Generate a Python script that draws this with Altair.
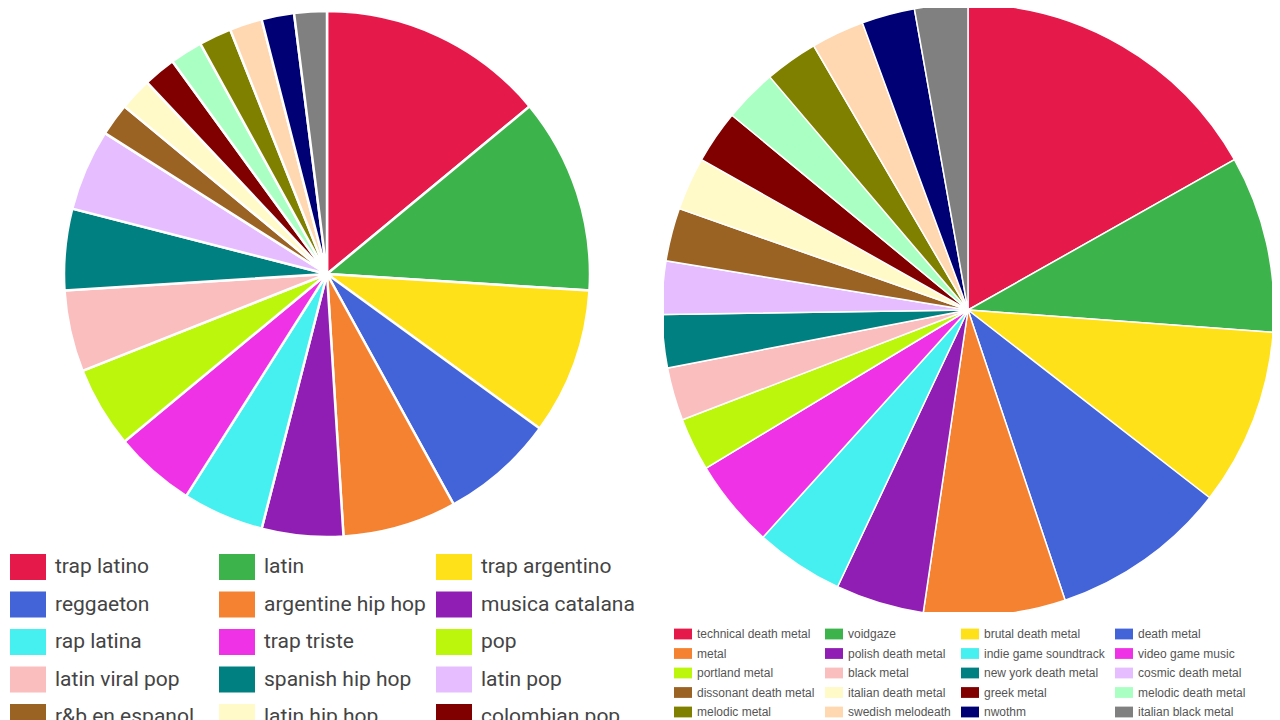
import altair as alt
import pandas as pd

# 20-colour palette shared by both pies, in legend order
palette = ["#e6194b", "#3cb44b", "#ffe119", "#4363d8", "#f58231",
           "#911eb4", "#46f0f0", "#f032e6", "#bcf60c", "#fabebe",
           "#008080", "#e6beff", "#9a6324", "#fffac8", "#800000",
           "#aaffc3", "#808000", "#ffd8b1", "#000075", "#808080"]

latin_genres = ["trap latino", "latin", "trap argentino", "reggaeton",
                "argentine hip hop", "musica catalana", "rap latina",
                "trap triste", "pop", "latin viral pop", "spanish hip hop",
                "latin pop", "r&b en espanol", "latin hip hop",
                "colombian pop", "reggaeton colombiano", "funk carioca",
                "urbano latino", "pop venezolano", "cumbia"]
latin_counts = [14, 12, 9, 7, 7, 5, 5, 5, 5, 5, 5, 5, 2, 2, 2, 2, 2, 2, 2, 2]

metal_genres = ["technical death metal", "voidgaze", "brutal death metal",
                "death metal", "metal", "polish death metal",
                "indie game soundtrack", "video game music", "portland metal",
                "black metal", "new york death metal", "cosmic death metal",
                "dissonant death metal", "italian death metal", "greek metal",
                "melodic death metal", "melodic metal", "swedish melodeath",
                "nwothm", "italian black metal"]
metal_counts = [18, 10, 10, 10, 8, 5, 5, 5, 3, 3, 3, 3, 3, 3, 3, 3, 3, 3, 3, 3]


def pie(genres, counts, radius, line, legend):
    df = pd.DataFrame({"genre": genres, "count": counts,
                       "rank": list(range(len(genres)))})
    return alt.Chart(df).mark_arc(
        outerRadius=radius, stroke="white", strokeWidth=line, clip=True
    ).encode(
        theta=alt.Theta("count:Q", stack=True),
        color=alt.Color("genre:N",
                        scale=alt.Scale(domain=genres, range=palette),
                        legend=legend),
        order=alt.Order("rank:Q"),
        tooltip=["genre:N", "count:Q"],
    )


left = pie(latin_genres, latin_counts, 263, 2.5, alt.Legend(
    title=None, orient="none", legendX=2, legendY=541,
    direction="horizontal", columns=3,
    symbolType="M-1,-0.72H1V0.72H-1Z", symbolSize=1296,
    symbolStrokeWidth=0, symbolOpacity=1,
    labelFont="Roboto", labelFontSize=21, labelColor="#444444",
    labelOffset=9, labelLimit=162, columnPadding=10, rowPadding=6.5,
)).properties(width=638, height=532)

right = pie(metal_genres, metal_counts, 306, 1.5, alt.Legend(
    title=None, orient="none", legendX=10, legendY=617,
    direction="horizontal", columns=4,
    symbolType="M-1,-0.6H1V0.6H-1Z", symbolSize=324,
    symbolStrokeWidth=0, symbolOpacity=1,
    labelFont="Liberation Sans", labelFontSize=12, labelColor="#555555",
    labelOffset=5, labelLimit=140, columnPadding=10, rowPadding=4.5,
)).properties(width=608, height=604)

chart = alt.hconcat(left, right, spacing=18, bounds="flush").resolve_scale(
    color="independent", theta="independent"
).properties(
    padding=0
).configure_view(
    strokeWidth=0, fill="white"
)

chart.save("out.html", embed_options={"renderer": "svg", "actions": False})
